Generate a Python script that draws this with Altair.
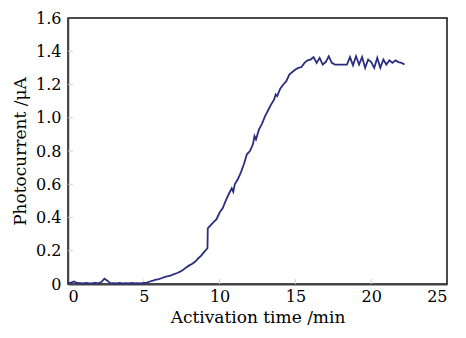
import altair as alt
import pandas as pd

# Activation time (min) and photocurrent (uA)
time_min = [0.0, 0.2, 0.4, 0.6, 0.8, 1.0, 1.2, 1.4, 1.6, 1.8, 2.0, 2.2, 2.4, 2.6, 2.8,
            3.0, 3.2, 3.4, 3.6, 3.8, 4.0, 4.2, 4.4, 4.6, 4.8, 5.0, 5.2, 5.4, 5.6, 5.8,
            6.0, 6.2, 6.4, 6.6, 6.8, 7.0, 7.2, 7.4, 7.6, 7.8, 8.0, 8.2, 8.4, 8.6, 8.8,
            9.0, 9.2, 9.22, 9.4, 9.6, 9.8, 10.0, 10.2, 10.4, 10.6, 10.8, 10.9, 11.0,
            11.2, 11.4, 11.6, 11.8, 12.0, 12.2, 12.3, 12.4, 12.6, 12.8, 13.0, 13.2,
            13.4, 13.6, 13.7, 13.8, 14.0, 14.2, 14.4, 14.6, 14.8, 15.0, 15.2, 15.4,
            15.6, 15.8, 16.0, 16.2, 16.4, 16.6, 16.8, 17.0, 17.2, 17.4, 17.6, 17.8,
            18.0, 18.2, 18.4, 18.6, 18.8, 19.0, 19.2, 19.4, 19.6, 19.8, 20.0, 20.2,
            20.4, 20.6, 20.8, 21.0, 21.2, 21.4, 21.6, 21.8, 22.0, 22.2]
photocurrent = [0.005, 0.008, 0.015, 0.006, 0.005, 0.004, 0.006, 0.004, 0.005, 0.007,
                0.004, 0.012, 0.032, 0.020, 0.004, 0.005, 0.003, 0.006, 0.004, 0.005,
                0.003, 0.006, 0.004, 0.005, 0.004, 0.006, 0.008, 0.015, 0.020, 0.026,
                0.030, 0.036, 0.043, 0.047, 0.052, 0.060, 0.066, 0.074, 0.086, 0.100,
                0.112, 0.122, 0.135, 0.155, 0.172, 0.195, 0.215, 0.335, 0.352, 0.372,
                0.390, 0.430, 0.455, 0.500, 0.540, 0.575, 0.555, 0.600, 0.630, 0.670,
                0.720, 0.780, 0.800, 0.840, 0.890, 0.870, 0.930, 0.965, 1.010, 1.045,
                1.080, 1.110, 1.140, 1.130, 1.175, 1.200, 1.220, 1.260, 1.275, 1.290,
                1.300, 1.305, 1.330, 1.345, 1.350, 1.365, 1.330, 1.360, 1.320, 1.335,
                1.370, 1.330, 1.320, 1.320, 1.320, 1.320, 1.320, 1.365, 1.315, 1.370,
                1.320, 1.365, 1.300, 1.350, 1.335, 1.300, 1.360, 1.300, 1.350, 1.320,
                1.345, 1.330, 1.345, 1.335, 1.330, 1.320]

x_ticks = [0, 5, 10, 15, 20, 25]
y_ticks = [0, 0.2, 0.4, 0.6, 0.8, 1.0, 1.2, 1.4, 1.6]

df = pd.DataFrame({"t": time_min, "v": photocurrent})
dfx = pd.DataFrame({"t": x_ticks[1:-1]})
dfy = pd.DataFrame({"v": y_ticks[1:-1]})

FONT = "DejaVu Serif"
W, H = 379, 266
xscale = alt.Scale(domain=[0, 25], nice=False, zero=False)
yscale = alt.Scale(domain=[0, 1.6], nice=False)

xaxis = alt.Axis(title="Activation time /min", values=x_ticks, format="d",
                 ticks=False, grid=False, labelPadding=4, titlePadding=5,
                 domainColor="#444", domainWidth=2)
yaxis = alt.Axis(title="Photocurrent /μA", values=y_ticks,
                 labelExpr="datum.value == 0 ? '0' : format(datum.value, '.1f')",
                 ticks=False, grid=False, labelPadding=7, titlePadding=6,
                 domainColor="#444", domainWidth=1.5)

line = alt.Chart(df).mark_line(color="#2b2d80", strokeWidth=1.8).encode(
    x=alt.X("t:Q", scale=xscale, axis=xaxis),
    y=alt.Y("v:Q", scale=yscale, axis=yaxis),
)

xt = alt.Chart(dfx).mark_rule(color="#cfcfcf", strokeWidth=1).encode(
    x=alt.X("t:Q", scale=xscale, axis=xaxis),
    y=alt.value(H), y2=alt.value(H - 5),
)
yt = alt.Chart(dfy).mark_rule(color="#cfcfcf", strokeWidth=1).encode(
    y=alt.Y("v:Q", scale=yscale, axis=yaxis),
    x=alt.value(0), x2=alt.value(5),
)

chart = alt.layer(xt, yt, line).properties(
    width=W, height=H,
    autosize=alt.AutoSizeParams(type="none"),
    padding={"left": 60, "top": 10, "right": 11, "bottom": 44},
    background="white",
).configure_view(
    stroke="#111", strokeWidth=1.5,
).configure_axis(
    labelFont=FONT, titleFont=FONT, labelFontSize=16, titleFontSize=17,
    labelColor="black", titleColor="black", titleFontWeight="normal",
)

chart.save("out.html", embed_options={"renderer": "svg", "actions": False})
